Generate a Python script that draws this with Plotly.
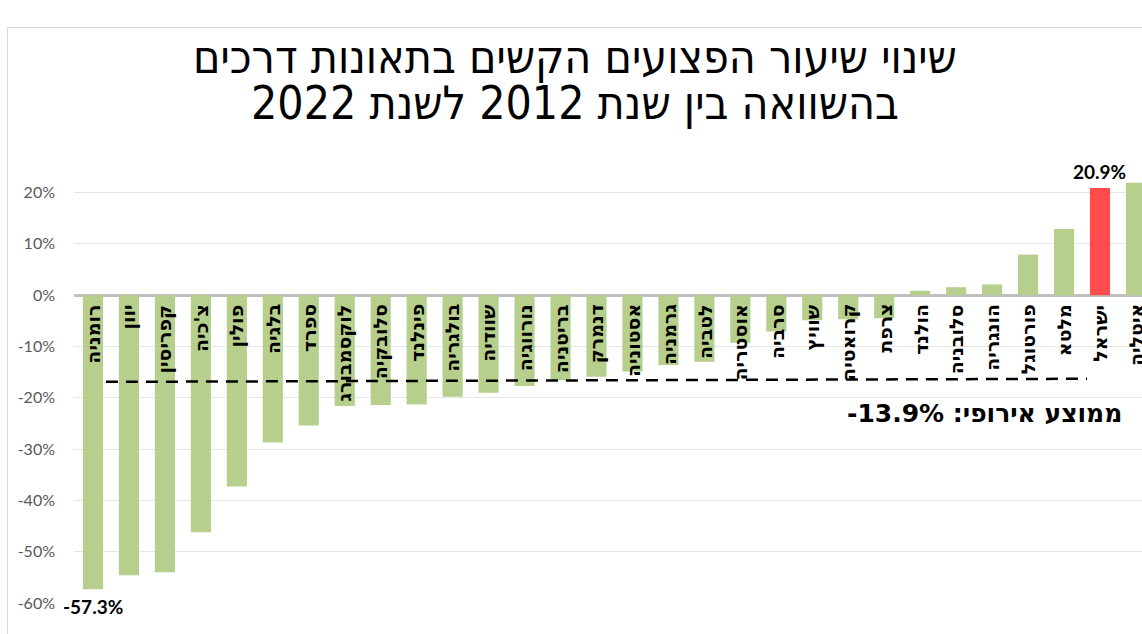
import plotly.graph_objects as go

# ---------------- data ----------------
countries = ["רומניה", "יוון", "קפריסין", "צ'כיה", "פולין", "בלגיה", "ספרד", "לוקסמבורג",
             "סלובקיה", "פינלנד", "בולגריה", "שוודיה", "נורווגיה", "בריטניה", "דנמרק",
             "אסטוניה", "גרמניה", "לטביה", "אוסטריה", "סרביה", "שוויץ", "קרואטיה", "צרפת",
             "הולנד", "סלובניה", "הונגריה", "פורטוגל", "מלטא", "ישראל", "איטליה"]
change_pct = [-57.3, -54.6, -54.0, -46.2, -37.3, -28.7, -25.4, -21.6,
              -21.4, -21.3, -19.8, -19.0, -17.7, -16.6, -15.9,
              -14.9, -13.6, -13.0, -9.3, -7.1, -4.9, -4.7, -4.5,
              0.85, 1.55, 2.1, 7.9, 12.9, 20.9, 21.9]
highlight = "ישראל"
labelled = {"רומניה": "-57.3%", "ישראל": "20.9%"}
europe_avg_text = "-13.9%"
avg_line_y = [-16.9, -16.3]     # dashed average line as drawn in the reference (left, right)
y_ticks = [-60, -50, -40, -30, -20, -10, 0, 10, 20]
title_lines = ["שינוי שיעור הפצועים הקשים בתאונות דרכים", "בהשוואה בין שנת 2012 לשנת 2022"]

# ---------------- layout helpers ----------------
W, H = 1142, 634
ML, MR, MT, MB = 74, 0, 172, 31
PW, PH = W - ML - MR, H - MT - MB


def px(xp):
    return (xp - ML) / PW


def py(yp):
    return (H - MB - yp) / PH


GREEN = "#B7CF8D"
RED = "#FF4D4D"
idx = list(range(len(countries)))
colors = [RED if c == highlight else GREEN for c in countries]

fig = go.Figure()
fig.add_trace(go.Bar(x=idx, y=change_pct, marker=dict(color=colors, line=dict(width=0)),
                     width=0.56, hoverinfo="skip"))

annotations = []
# category labels placed just under the zero line, rotated
for i, c in enumerate(countries):
    annotations.append(dict(x=i, y=0, xref="x", yref="y", text=c, showarrow=False,
                            textangle=-90, xanchor="center", yanchor="top", yshift=-7,
                            font=dict(family="DejaVu Sans", size=19, color="#000000",
                                      weight="bold")))
# value labels
for i, c in enumerate(countries):
    if c in labelled:
        v = change_pct[i]
        annotations.append(dict(x=i, y=v, xref="x", yref="y", text=labelled[c], showarrow=False,
                                xanchor="center", yanchor="top" if v < 0 else "bottom",
                                yshift=-4 if v < 0 else 3,
                                font=dict(family="Lato", size=19, color="#000000", weight="bold")))
# average text (RTL embedding so the number sits on the left)
annotations.append(dict(x=px(984), y=py(413), xref="paper", yref="paper",
                        text="\u202bממוצע אירופי: \u202a" + europe_avg_text + "\u202c\u202c",
                        showarrow=False, xanchor="center", yanchor="middle",
                        font=dict(family="DejaVu Sans", size=25, color="#000000", weight="bold")))
# title
for k, (line, yc) in enumerate(zip(title_lines, [57, 103])):
    annotations.append(dict(x=px(575), y=py(yc), xref="paper", yref="paper", text=line,
                            showarrow=False, xanchor="center", yanchor="middle",
                            font=dict(family="DejaVu Sans Condensed", size=46, color="#000000")))

shapes = [
    # dashed average line
    dict(type="line", xref="x", yref="y", x0=0.36, x1=27.64, y0=avg_line_y[0], y1=avg_line_y[1],
         line=dict(color="#000000", width=2.5, dash="12px,8px")),
    # chart border (left + top)
    dict(type="path", xref="paper", yref="paper",
         path=f"M {px(7.5)} {py(640)} L {px(7.5)} {py(27.5)} L {px(1150)} {py(27.5)}",
         line=dict(color="#D9D9D9", width=1)),
]

fig.update_layout(
    width=W, height=H,
    margin=dict(l=ML, r=MR, t=MT, b=MB),
    paper_bgcolor="#FFFFFF", plot_bgcolor="#FFFFFF",
    showlegend=False,
    annotations=annotations,
    shapes=shapes,
    xaxis=dict(range=[-0.528, 29.168], showticklabels=False, showgrid=False, zeroline=False,
               showline=False, fixedrange=True),
    yaxis=dict(range=[-60, 24], tickvals=y_ticks, ticktext=[f"{t}%" for t in y_ticks],
               showgrid=True, gridcolor="#E6E6E6", gridwidth=1,
               zeroline=True, zerolinecolor="#BFBFBF", zerolinewidth=2.5,
               showline=False, ticks="", ticklabelstandoff=18,
               tickfont=dict(family="Lato", size=16, color="#595959"), fixedrange=True),
)

fig.write_html("out.html", config={"displayModeBar": False},
               post_script="document.body.style.margin='0px';document.body.style.overflow='hidden';")
